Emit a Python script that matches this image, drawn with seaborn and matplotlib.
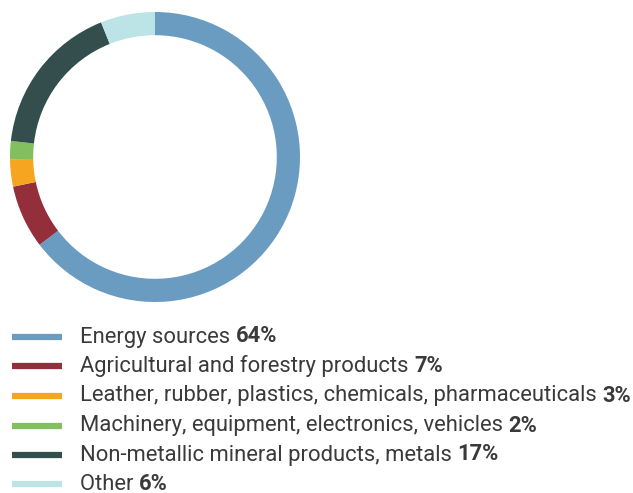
import matplotlib
matplotlib.use("Agg")
import matplotlib.pyplot as plt
from matplotlib.lines import Line2D
import seaborn as sns

# Share of imports by product group
labels = ["Energy sources", "Agricultural and forestry products",
          "Leather, rubber, plastics, chemicals, pharmaceuticals",
          "Machinery, equipment, electronics, vehicles",
          "Non-metallic mineral products, metals", "Other"]
shares = [64, 7, 3, 2, 17, 6]
pct_labels = ["64%", "7%", "3%", "2%", "17%", "6%"]
colors = ["#6a9bc1", "#932e3a", "#f6a51f", "#82bf5e", "#334e4d", "#bce3e6"]

sns.set_style("white")
plt.rcParams["font.family"] = ["Roboto", "DejaVu Sans"]

fig = plt.figure(figsize=(6.33, 4.93), dpi=100)

# donut
ax = fig.add_axes([10 / 633, 1 - 302 / 493, 290 / 633, 290 / 493])
ax.pie(shares, colors=colors, startangle=90, counterclock=False,
       wedgeprops=dict(width=0.16, linewidth=0))
ax.set_xlim(-1, 1)
ax.set_ylim(-1, 1)
ax.set_aspect("equal")
ax.axis("off")

# legend drawn by hand: colored bar, label, bold percentage
row_y = [337, 366, 396, 426, 455, 484]
text_col = "#3a3a3a"
fs = 15.8
for i in range(len(labels)):
    y = 1 - row_y[i] / 493
    fig.add_artist(Line2D([12 / 633, 62 / 633], [y, y], color=colors[i],
                          lw=4.5, solid_capstyle="butt",
                          transform=fig.transFigure))
    t = fig.text(80 / 633, y, labels[i] + " ", fontsize=fs,
                 color=text_col, va="center")
    ax.annotate(pct_labels[i], xy=(1, 0), xycoords=t, va="bottom",
                ha="left", fontsize=fs, fontweight="bold", color=text_col,
                annotation_clip=False)

fig.savefig("out.png", dpi=100)
